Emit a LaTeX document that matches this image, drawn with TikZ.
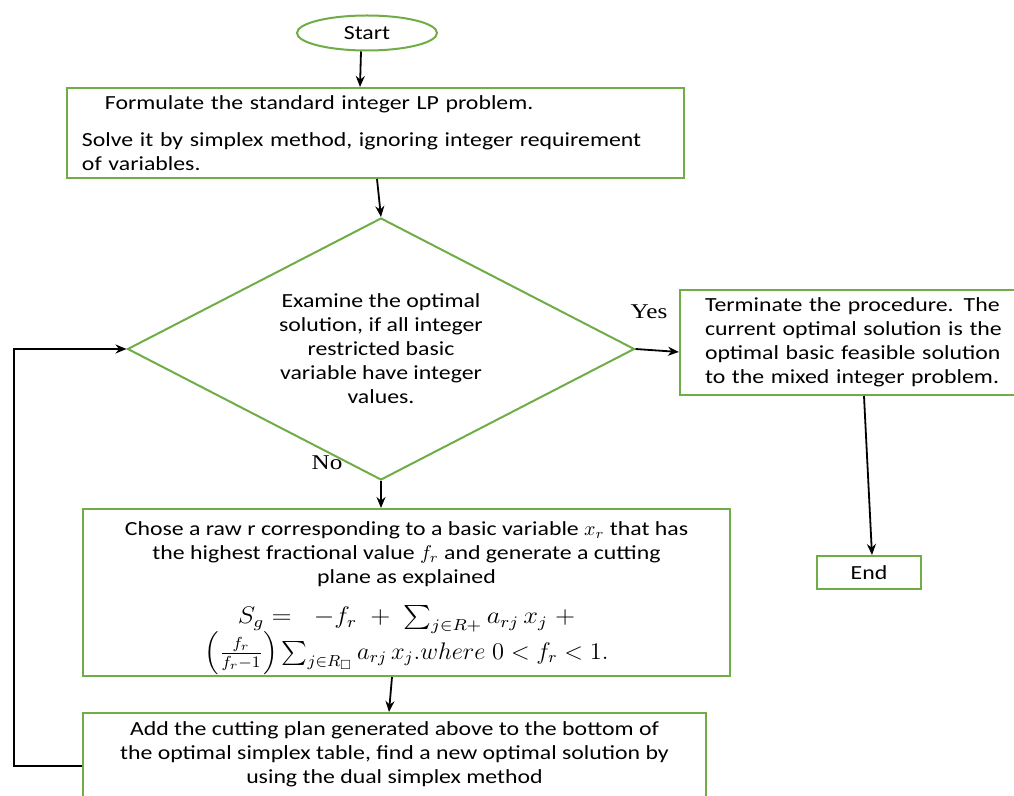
\documentclass[tikz,border=0pt]{standalone}
\usepackage{amsmath,amssymb}
\usepackage{fontspec}
\setmainfont{Carlito}[FakeStretch=1.19]
\newfontfamily\yesfont{Liberation Serif}[FakeStretch=1.2]
\usetikzlibrary{shapes.geometric,arrows.meta}
\definecolor{ogreen}{HTML}{70AD47}
\begin{document}
\begin{tikzpicture}[x=0.5pt,y=-0.5pt,
  font=\fontsize{10}{12}\selectfont,
  box/.style={draw=ogreen,line width=1pt,rectangle,inner sep=0pt},
  arr/.style={-{Stealth[length=5.5pt,width=4.5pt]},line width=0.9pt},
  lbl/.style={font=\yesfont\fontsize{10.5}{12}\selectfont}]
\useasboundingbox (0,0) rectangle (1014,796);
\fill[white] (0,0) rectangle (1014,796);

\node[draw=ogreen,line width=1pt,ellipse,minimum width=70pt,minimum height=17.5pt,inner sep=0pt] (start) at (367,33) {Start};

\node[box,minimum width=308.5pt,minimum height=45pt,text width=293.5pt,align=left] (b1) at (375.5,133)
  {\hspace*{11.5pt}Formulate the standard integer LP problem.\\[6.5pt]Solve it by simplex method, ignoring integer requirement\\of variables.};

\node[diamond,aspect=1.93,draw=ogreen,line width=1pt,minimum width=253.5pt,minimum height=131pt,inner sep=0pt,align=center] (dia) at (381,349)
  {Examine the optimal\\solution, if all integer\\restricted basic\\variable have integer\\values.};

\node[box,minimum width=175pt,minimum height=52.5pt,text width=150pt,align=left] (term) at (855,342.5)
  {Terminate the procedure. The\\current optimal solution is the\\optimal basic feasible solution\\to the mixed integer problem.};

\node[box,minimum width=52pt,minimum height=16.5pt] (end) at (869,572.5) {End};

\node[box,minimum width=323.5pt,minimum height=83.5pt,align=center] (b3) at (406.5,592.5)
  {Chose a raw r corresponding to a basic variable $x_r$ that has\\
   the highest fractional value $f_r$ and generate a cutting\\
   plane as explained\\[8pt]
   \scalebox{1.1}[1]{\large$S_g =\;\; -f_r \;+\; \sum_{j\in R+} a_{rj}\, x_j \;+$}\\[-2pt]
   \scalebox{1.02}[1]{\large$\left(\frac{f_r}{f_r-1}\right)\sum_{j\in R_{\square}} a_{rj}\, x_j. where\ 0<f_r<1.$}\\[-10pt]\mbox{}};

\node[box,minimum width=311.5pt,minimum height=55pt,align=center] (b4) at (394.5,768)
  {Add the cutting plan generated above to the bottom of\\
   the optimal simplex table, find a new optimal solution by\\
   using the dual simplex method\\[3.5pt]\mbox{}};

\node[lbl] (yes) at (649,312) {Yes};
\node[lbl] (no) at (327,463) {No};

\draw[arr] ([xshift=-3pt]start.south) -- ([xshift=-7.75pt]b1.north);
\draw[arr] ([xshift=0.75pt]b1.south) -- (dia.north);
\draw[arr] (dia.east) -- ([yshift=-4.75pt]term.west);
\draw[arr] ([xshift=4.5pt]term.south) -- ([xshift=1.5pt]end.north);
\draw[arr] (dia.south) -- ([xshift=-12.75pt]b3.north);
\draw[arr] ([xshift=-7.25pt]b3.south) -- ([xshift=-2.75pt]b4.north);
\draw[arr] ([yshift=1pt]b4.west) -- ++(-34pt,0) |- (dia.west);
\end{tikzpicture}
\end{document}
